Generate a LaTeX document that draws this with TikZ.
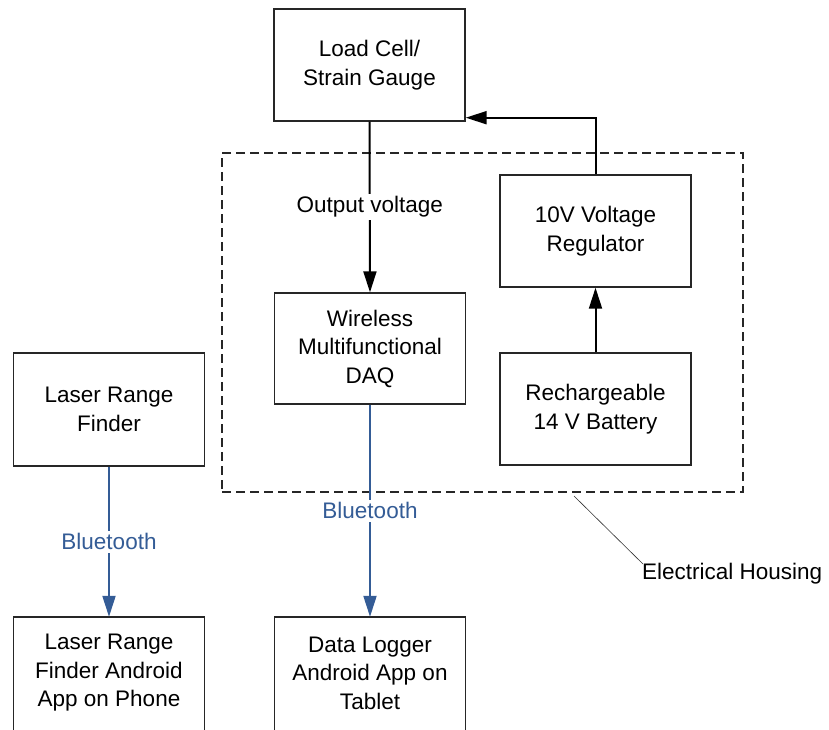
\documentclass[tikz,border=0pt]{standalone}
\usepackage{fontspec}
\setmainfont{Liberation Sans}
\usetikzlibrary{arrows.meta}
\definecolor{btblue}{RGB}{52,92,150}
\begin{document}
\begin{tikzpicture}[x=1pt,y=-1pt,
  txt/.style={font=\fontsize{22.5}{28.5}\selectfont},
  blk/.style={txt,draw=black!85,line width=1.4pt,fill=white,minimum width=191pt,minimum height=112pt,
    align=center,inner sep=0pt},
  openblk/.style={txt,draw=none,minimum width=191pt,minimum height=112pt,align=center,inner sep=0pt},
  edge/.style={draw=black!85,line width=1.4pt},
  arr/.style={line width=2pt,-{Triangle[length=21pt,width=13pt]}},
  barr/.style={line width=2pt,draw=btblue,-{Triangle[length=21pt,width=13pt]},color=btblue},
  lbl/.style={txt,fill=white,inner sep=3pt},
  blbl/.style={lbl,text=btblue}]
\useasboundingbox (0,0) rectangle (829,729);
\clip (0,0) rectangle (829,729);
% housing
\node[draw=black!85,dashed,dash pattern=on 9pt off 5pt,line width=1.2pt,minimum width=521pt,minimum height=339pt,inner sep=0pt] (housing) at (482.5,322.5) {};
\node[blk] (lc) at (369.5,65) {Load Cell/\\Strain Gauge};
\node[blk] (reg) at (595.5,231) {10V Voltage\\Regulator};
\node[blk,minimum height=111pt] (daq) at (370,348.5) {Wireless\\Multifunctional\\DAQ};
\node[blk] (bat) at (595.5,409) {Rechargeable\\14 V Battery};
\node[blk,minimum height=113pt] (lrf) at (109,409.5) {Laser Range\\Finder};
\node[openblk] (phone) at (109,673) {Laser Range\\Finder Android\\App on Phone};
\node[openblk] (tab) at (370,673) {Data Logger\\Android App on\\Tablet};
\draw[edge] ([yshift=-20pt]phone.south west) -- (phone.north west) -- (phone.north east) -- ([yshift=-20pt]phone.south east);
\draw[edge] ([yshift=-20pt]tab.south west) -- (tab.north west) -- (tab.north east) -- ([yshift=-20pt]tab.south east);
\node[txt,anchor=west,inner sep=0pt] (eh) at (642,574) {Electrical Housing};
\coordinate (lead) at (574,496);
% connectors
\draw[arr] (lc.south) -- node[lbl] {Output voltage} (daq.north);
\draw[arr] (reg.north) |- ([yshift=4pt]lc.south east);
\draw[arr] (bat.north) -- (reg.south);
\draw[barr] (daq.south) -- node[blbl] {Bluetooth} (tab.north);
\draw[barr] (lrf.south) -- node[blbl] {Bluetooth} (phone.north);
\draw[line width=0.6pt,black!80] (lead) -- ([shift={(1pt,10pt)}]eh.west);
\end{tikzpicture}
\end{document}
